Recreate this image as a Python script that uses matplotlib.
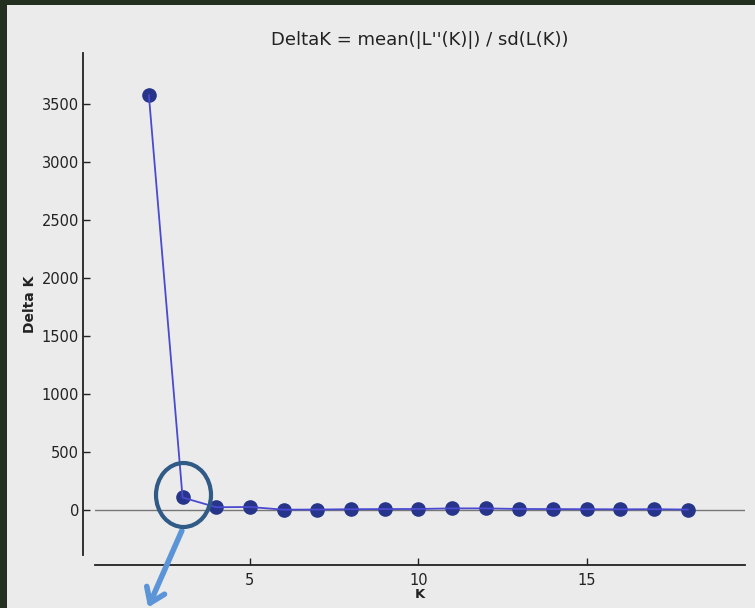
import numpy as np
import matplotlib
matplotlib.use("Agg")
import matplotlib.pyplot as plt
from matplotlib.patches import Rectangle, Ellipse, FancyArrowPatch

# valores
K = [2, 3, 4, 5, 6, 7, 8, 9, 10, 11, 12, 13, 14, 15, 16, 17, 18]
delta_k = [3575, 106, 22, 24, 1, 2, 5, 6, 7, 12, 12, 7, 6, 5, 4, 5, 2]
yticks = [0, 500, 1000, 1500, 2000, 2500, 3000, 3500]
xticks = [5, 10, 15]

fig = plt.figure(figsize=(7.55, 6.08), dpi=100, facecolor='#24301f')
fig.patches.append(Rectangle((7 / 755, 0), 1, 603 / 608, transform=fig.transFigure,
                             facecolor='#ebebeb', edgecolor='none', zorder=-10))

ax = fig.add_axes([95 / 755, 53 / 608, 650 / 755, 502 / 608])
ax.set_facecolor('none')

ax.axhline(0, color='#777777', linewidth=1, zorder=1)
ax.plot(K, delta_k, 'o', color='#26358a', markersize=9.5, zorder=2)
ax.plot(K, delta_k, '-', color='#4a4ad0', linewidth=1.3, zorder=3)

ax.set_xlim(0.4, 19.7)
ax.set_ylim(-390, 3940)
ax.set_xticks(xticks)
ax.set_yticks(yticks)

for s in ['top', 'right']:
    ax.spines[s].set_visible(False)
ax.spines['left'].set_position(('outward', 8.6))
ax.spines['bottom'].set_position(('outward', 7.2))
ax.spines['left'].set_color('#222222')
ax.spines['bottom'].set_color('#222222')
ax.spines['left'].set_linewidth(1.3)
ax.spines['bottom'].set_linewidth(1.3)
ax.tick_params(direction='in', length=5, width=1, colors='#222222',
               labelsize=10.5, labelcolor='#222222', pad=3)
ax.tick_params(axis='x', pad=6)

ax.set_title("DeltaK = mean(|L''(K)|) / sd(L(K))", fontsize=13, color='#222222', pad=6)
ax.set_xlabel("K", fontsize=9.5, color='#222222', labelpad=0, fontweight='bold')
ax.set_ylabel("Delta K", fontsize=10, color='#222222', labelpad=3, fontweight='bold')

# circulo y flecha de anotacion
fig.patches.append(Ellipse((183.5 / 755, 1 - 495 / 608), 55 / 755, 64 / 608,
                           transform=fig.transFigure, fill=False,
                           edgecolor='#2f5b86', linewidth=3, zorder=5))
fig.add_artist(FancyArrowPatch(
    (183 / 755, 1 - 528 / 608), (147 / 755, 1 - 610 / 608),
    transform=fig.transFigure, arrowstyle='->,head_length=10,head_width=7',
    color='#5b95d8', linewidth=4, zorder=5))

plt.savefig("out.png", dpi=100, facecolor=fig.get_facecolor())
